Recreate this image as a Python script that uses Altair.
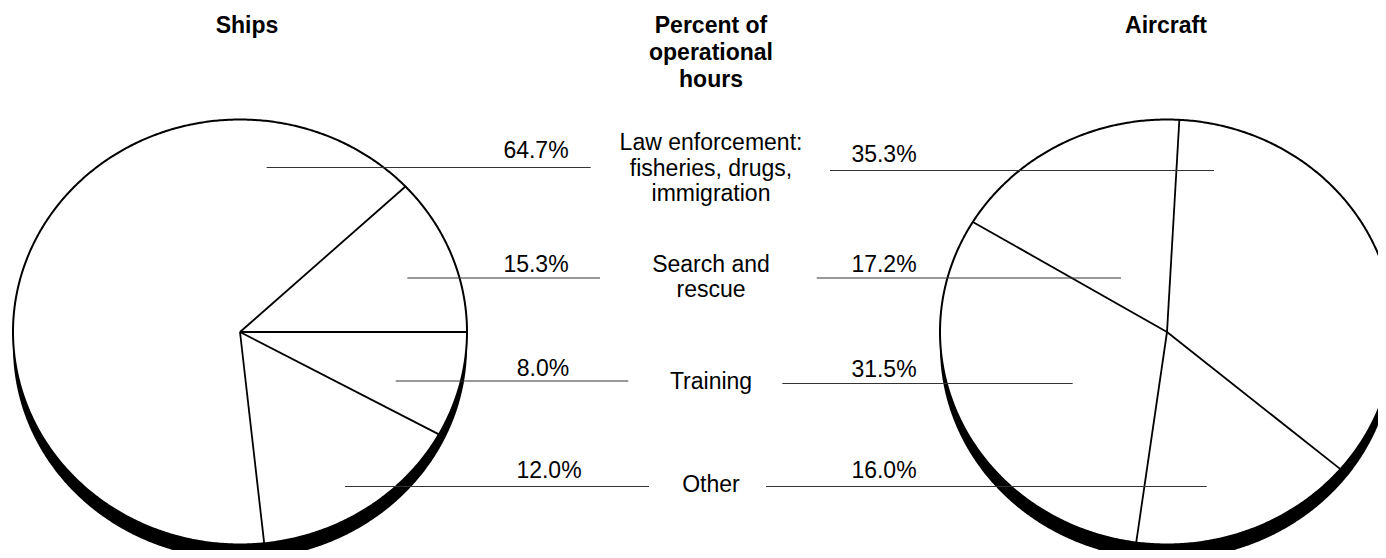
import altair as alt
import numpy as np
import pandas as pd

# ---------------- data ----------------
categories = [
    "Law enforcement:\nfisheries, drugs,\nimmigration",
    "Search and\nrescue",
    "Training",
    "Other",
]
ships = [64.7, 15.3, 8.0, 12.0]
aircraft = [35.3, 17.2, 31.5, 16.0]
pie_titles = ["Ships", "Aircraft"]
middle_title = "Percent of\noperational\nhours"

# ---------------- layout (page pixels) ----------------
OFF = 8                      # page margin
W, H = 1370, 542             # view size (fits inside the window)
FONT = "Liberation Sans, Arial, Helvetica, sans-serif"
FS = 23
pie_cx = [240, 1167]
pie_cy = 332
rx, ry = 227, 212.5
shadow_dy = 15
start_deg = [43.2, -40.2]    # first slice starts here, slices run counter-clockwise
title_x = [247, 1166]
title_y = 33
mid_x = 711
mid_label_y = [150, 271.7, 389.3, 491.7]
ships_line_y = [167.5, 278, 381, 486.5]
ships_line_x = [(266.7, 590.7), (407.3, 600), (395.7, 628.3), (345, 649)]
air_line_y = [170.5, 278, 383.5, 486.5]
air_line_x = [(830, 1214), (816.7, 1121), (782.3, 1072.7), (766, 1206.7)]
ships_lab_x = [536, 536, 543, 549]
ships_lab_y = [157.8, 271.7, 376, 478.3]
air_lab_x = [884, 884, 884, 884]
air_lab_y = [161.7, 271.7, 376.7, 478]

# ---------------- tables built from the above ----------------
series = [ships, aircraft]

# ellipse outline / fills
outline_rows, area_rows = [], []
for name, cx in zip(pie_titles, pie_cx):
    for t in np.arange(0, 360.5, 0.5):
        a = np.radians(t)
        outline_rows.append(dict(pie=name, t=t, x=cx + rx * np.cos(a), y=pie_cy - ry * np.sin(a)))
    for t in np.arange(0, 180.25, 0.25):
        a = np.radians(t)
        area_rows.append(dict(pie=name, x=cx + rx * np.cos(a),
                              yt=pie_cy - ry * np.sin(a), yb=pie_cy + ry * np.sin(a),
                              yts=pie_cy - ry * np.sin(a) + shadow_dy,
                              ybs=pie_cy + ry * np.sin(a) + shadow_dy))
outline_df = pd.DataFrame(outline_rows)
area_df = pd.DataFrame(area_rows)

# slice boundaries from the values
ray_rows = []
for name, vals, cx, st in zip(pie_titles, series, pie_cx, start_deg):
    total = sum(vals)
    cum = 0.0
    for cat, v in zip(categories, vals):
        a = np.radians(st + 360.0 * cum / total)
        ray_rows.append(dict(pie=name, category=cat, x=cx, y=pie_cy,
                             x2=cx + rx * np.cos(a), y2=pie_cy - ry * np.sin(a)))
        cum += v
ray_df = pd.DataFrame(ray_rows)

# leader lines
lead_rows = []
for i in range(len(categories)):
    lead_rows.append(dict(x=ships_line_x[i][0], x2=ships_line_x[i][1], y=ships_line_y[i]))
    lead_rows.append(dict(x=air_line_x[i][0], x2=air_line_x[i][1], y=air_line_y[i]))
lead_df = pd.DataFrame(lead_rows)

# percent labels
pct_rows = []
for i in range(len(categories)):
    pct_rows.append(dict(x=ships_lab_x[i], y=ships_lab_y[i], text=f"{ships[i]:.1f}%"))
    pct_rows.append(dict(x=air_lab_x[i], y=air_lab_y[i], text=f"{aircraft[i]:.1f}%"))
pct_df = pd.DataFrame(pct_rows)

cat_df = pd.DataFrame(dict(x=[mid_x] * len(categories), y=mid_label_y, text=categories))
title_df = pd.DataFrame(dict(x=title_x + [mid_x], y=[title_y] * 3,
                             text=pie_titles + [middle_title]))

# ---------------- encodings ----------------
xs = alt.Scale(domain=[OFF, OFF + W], nice=False, zero=False)
ys = alt.Scale(domain=[OFF, OFF + H], nice=False, zero=False, reverse=True)


def X(f):
    return alt.X(f, scale=xs, axis=None)


def Y(f):
    return alt.Y(f, scale=ys, axis=None)


shadow = alt.Chart(area_df).mark_area(color="black", opacity=1, clip=True).encode(
    x=X("x:Q"), y=Y("yts:Q"), y2="ybs:Q", detail="pie:N")
face = alt.Chart(area_df).mark_area(color="white", opacity=1, clip=True).encode(
    x=X("x:Q"), y=Y("yt:Q"), y2="yb:Q", detail="pie:N")
outline = alt.Chart(outline_df).mark_line(color="black", strokeWidth=2, clip=True).encode(
    x=X("x:Q"), y=Y("y:Q"), detail="pie:N", order="t:Q")
rays = alt.Chart(ray_df).mark_rule(color="black", strokeWidth=1.8, clip=True).encode(
    x=X("x:Q"), y=Y("y:Q"), x2="x2:Q", y2="y2:Q")
leaders = alt.Chart(lead_df).mark_rule(color="#333333", strokeWidth=1.1).encode(
    x=X("x:Q"), x2="x2:Q", y=Y("y:Q"))
pct = alt.Chart(pct_df).mark_text(font=FONT, fontSize=FS, color="black",
                                  align="center", baseline="alphabetic").encode(
    x=X("x:Q"), y=Y("y:Q"), text="text:N")
cats = alt.Chart(cat_df).mark_text(font=FONT, fontSize=FS, color="black",
                                   align="center", baseline="alphabetic",
                                   lineBreak="\n", lineHeight=25.5).encode(
    x=X("x:Q"), y=Y("y:Q"), text="text:N")
titles = alt.Chart(title_df).mark_text(font=FONT, fontSize=FS, fontWeight="bold",
                                       color="black", align="center",
                                       baseline="alphabetic", lineBreak="\n",
                                       lineHeight=27).encode(
    x=X("x:Q"), y=Y("y:Q"), text="text:N")

chart = alt.layer(shadow, face, outline, rays, leaders, pct, cats, titles).properties(
    width=W, height=H, padding=0, background="white",
    autosize=alt.AutoSizeParams(type="none"),
).configure_view(stroke=None)

chart.save("out.html", embed_options={"renderer": "svg", "actions": False})
